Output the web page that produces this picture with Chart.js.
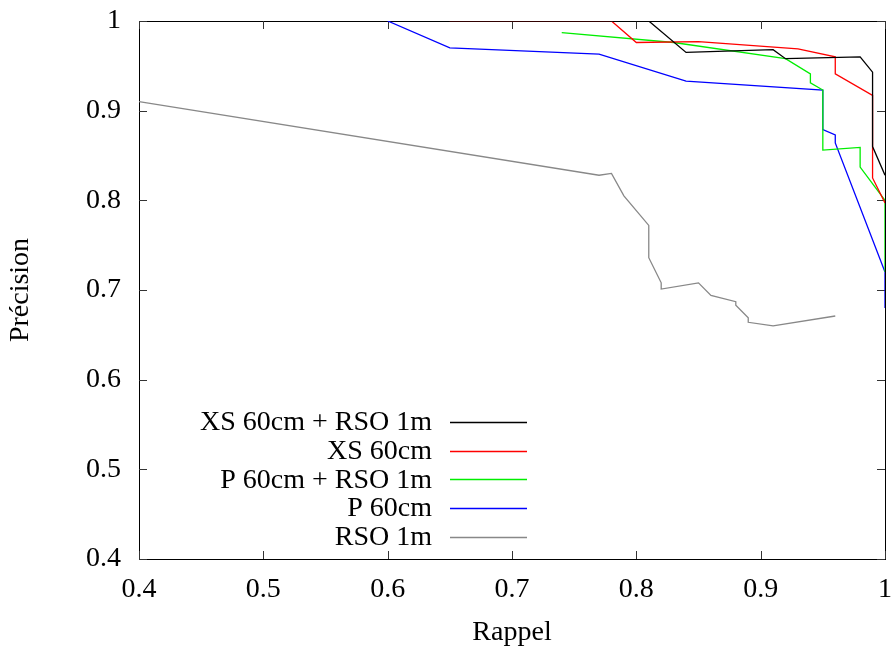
<!DOCTYPE html>
<html>
<head>
<meta charset="utf-8">
<script src="https://cdn.jsdelivr.net/npm/chart.js@4.4.1/dist/chart.umd.min.js"></script>
<style>
  html, body { margin: 0; padding: 0; background: #fff; }
  #wrap { width: 891px; height: 649px; }
</style>
</head>
<body>
<div id="wrap"><canvas id="chart" width="891" height="649"></canvas></div>
<script>
// ticks
const xTicks = [0.4, 0.5, 0.6, 0.7, 0.8, 0.9, 1];
const yTicks = [0.4, 0.5, 0.6, 0.7, 0.8, 0.9, 1];

// XS 60cm + RSO 1m
const xsRsoRecall    = [0.65, 0.81, 0.84, 0.91, 0.92, 0.98, 0.99, 0.99, 1.0];
const xsRsoPrecision = [1.0, 1.0, 0.965, 0.968, 0.958, 0.960, 0.943, 0.860, 0.828];

// XS 60cm
const xsRecall    = [0.65, 0.78, 0.80, 0.85, 0.93, 0.96, 0.96, 0.99, 0.99, 1.0];
const xsPrecision = [1.0, 1.0, 0.976, 0.977, 0.969, 0.960, 0.941, 0.917, 0.825, 0.797];

// P 60cm + RSO 1m
const pRsoRecall    = [0.74, 0.83, 0.92, 0.94, 0.94, 0.95, 0.95, 0.98, 0.98, 1.0, 1.0];
const pRsoPrecision = [0.987, 0.976, 0.958, 0.941, 0.931, 0.923, 0.856, 0.859, 0.837, 0.800, 0.72];

// P 60cm
const pRecall    = [0.60, 0.65, 0.77, 0.84, 0.95, 0.95, 0.96, 0.96, 1.0, 1.0];
const pPrecision = [1.0, 0.970, 0.963, 0.933, 0.923, 0.879, 0.873, 0.864, 0.720, 0.68];

// RSO 1m
const rsoRecall    = [0.40, 0.77, 0.78, 0.79, 0.81, 0.81, 0.82, 0.82, 0.85, 0.86, 0.88, 0.88, 0.89, 0.89, 0.91, 0.96];
const rsoPrecision = [0.910, 0.828, 0.830, 0.805, 0.772, 0.736, 0.708, 0.701, 0.708, 0.694, 0.687, 0.683, 0.669, 0.664, 0.660, 0.671];

const labels = ["XS 60cm + RSO 1m", "XS 60cm", "P 60cm + RSO 1m", "P 60cm", "RSO 1m"];
const colors = ["#000000", "#ff0000", "#00ee00", "#0000ff", "#888888"];

function toPoints(xs, ys) {
  return xs.map((x, i) => ({ x, y: ys[i] }));
}

const series = [
  toPoints(xsRsoRecall, xsRsoPrecision),
  toPoints(xsRecall, xsPrecision),
  toPoints(pRsoRecall, pRsoPrecision),
  toPoints(pRecall, pPrecision),
  toPoints(rsoRecall, rsoPrecision)
];

const FONT = "'Liberation Serif', 'Times New Roman', serif";

// cadre + graduations vers l'intérieur (style gnuplot)
const framePlugin = {
  id: "frame",
  beforeDatasetsDraw(chart) {
    const { ctx, chartArea: a, scales } = chart;
    ctx.save();
    ctx.strokeStyle = "#000";
    ctx.lineWidth = 1;
    ctx.strokeRect(a.left + 0.5, a.top + 0.5, a.right - a.left, a.bottom - a.top);
    ctx.strokeStyle = "#333";
    ctx.beginPath();
    xTicks.forEach(v => {
      const px = Math.round(scales.x.getPixelForValue(v)) + 0.5;
      ctx.moveTo(px, a.bottom); ctx.lineTo(px, a.bottom - 8);
      ctx.moveTo(px, a.top); ctx.lineTo(px, a.top + 8);
    });
    yTicks.forEach(v => {
      const py = Math.round(scales.y.getPixelForValue(v)) + 0.5;
      ctx.moveTo(a.left, py); ctx.lineTo(a.left + 8, py);
      ctx.moveTo(a.right, py); ctx.lineTo(a.right - 8, py);
    });
    ctx.stroke();
    ctx.restore();
  }
};

// légende à droite du texte, comme gnuplot
const legendPlugin = {
  id: "gpLegend",
  afterDraw(chart) {
    const { ctx, chartArea: a } = chart;
    const textRight = a.left + 293;
    const y0 = a.top + 401;
    const step = 28.7;
    ctx.save();
    ctx.font = "28px " + FONT;
    ctx.textAlign = "right";
    ctx.textBaseline = "middle";
    chart.data.datasets.forEach((ds, i) => {
      const y = y0 + i * step;
      ctx.fillStyle = "#000";
      ctx.fillText(ds.label, textRight, y + 1);
      ctx.strokeStyle = ds.borderColor;
      ctx.lineWidth = 1.3;
      ctx.beginPath();
      ctx.moveTo(textRight + 18, Math.round(y) + 0.5);
      ctx.lineTo(textRight + 95, Math.round(y) + 0.5);
      ctx.stroke();
    });
    ctx.restore();
  }
};

new Chart(document.getElementById("chart"), {
  type: "scatter",
  data: {
    datasets: series.map((pts, i) => ({
      label: labels[i],
      data: pts,
      showLine: true,
      borderColor: colors[i],
      backgroundColor: colors[i],
      borderWidth: 1.3,
      pointRadius: 0,
      tension: 0
    }))
  },
  options: {
    responsive: false,
    animation: false,
    layout: { padding: { top: 21, right: 6, left: 0, bottom: 0 } },
    plugins: {
      legend: { display: false },
      tooltip: { enabled: false }
    },
    scales: {
      x: {
        type: "linear",
        min: 0.4,
        max: 1,
        afterBuildTicks: s => { s.ticks = xTicks.map(v => ({ value: v })); },
        afterFit: s => { s.height = 90; s.paddingLeft = 0; s.paddingRight = 0; },
        grid: { display: false, drawTicks: false },
        border: { display: false },
        ticks: {
          padding: 14,
          color: "#000",
          font: { family: FONT, size: 28 },
          maxRotation: 0,
          callback: v => String(+v.toFixed(1))
        },
        title: {
          display: true,
          text: "Rappel",
          color: "#000",
          font: { family: FONT, size: 28 },
          padding: { top: 0, bottom: 0 }
        }
      },
      y: {
        type: "linear",
        min: 0.4,
        max: 1,
        afterBuildTicks: s => { s.ticks = yTicks.map(v => ({ value: v })); },
        afterFit: s => { s.width = 139; s.paddingTop = 0; s.paddingBottom = 0; },
        grid: { display: false, drawTicks: false },
        border: { display: false },
        ticks: {
          padding: 18,
          color: "#000",
          font: { family: FONT, size: 28 },
          callback: v => String(+v.toFixed(1))
        },
        title: {
          display: true,
          text: "Précision",
          color: "#000",
          font: { family: FONT, size: 28 },
          padding: { top: 4, bottom: 0 }
        }
      }
    }
  },
  plugins: [framePlugin, legendPlugin]
});
</script>
</body>
</html>
